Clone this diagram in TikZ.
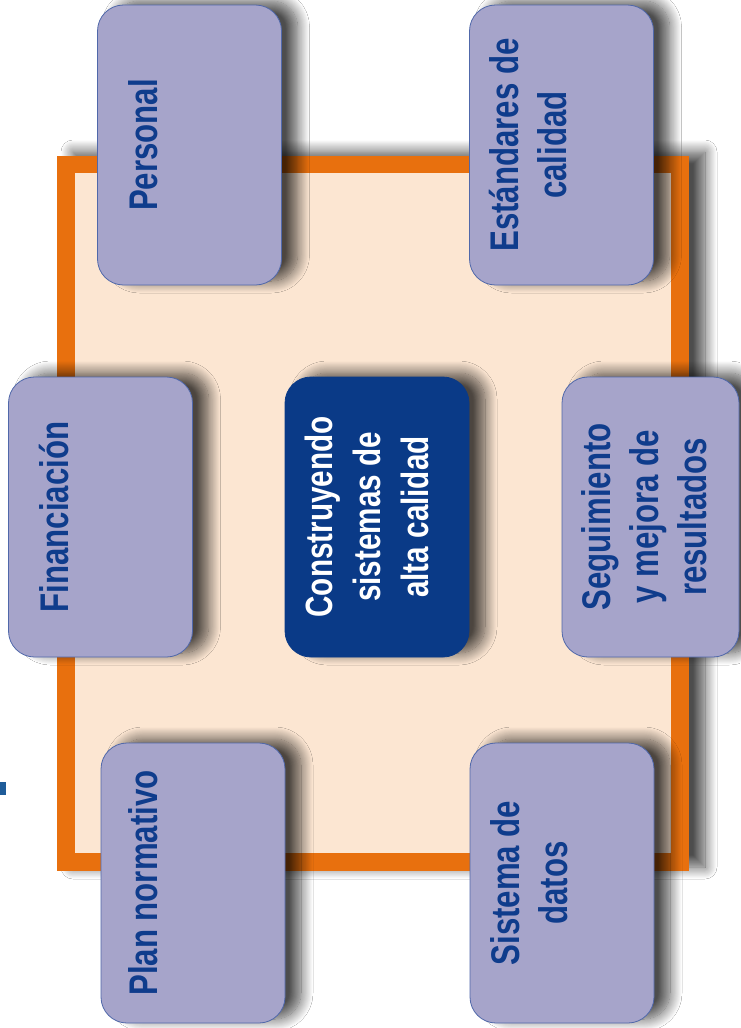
\documentclass[tikz,border=0pt]{standalone}
\usepackage{fontspec}
\newfontfamily\lbl{Liberation Sans}[FakeStretch=0.78]
\usetikzlibrary{shadows.blur,calc}
\definecolor{lav}{HTML}{A6A4CA}
\definecolor{cardline}{HTML}{5068AA}
\definecolor{navytxt}{HTML}{0F3C8C}
\definecolor{navyfill}{HTML}{0A3A87}
\definecolor{orangefr}{HTML}{E8700E}
\definecolor{creamfr}{HTML}{FCE6D2}
\definecolor{markblue}{HTML}{1F5C99}
\begin{document}
\begin{tikzpicture}[x=1pt,y=-1pt,
  sh/.style={blur shadow={shadow xshift=16pt, shadow yshift=4pt, shadow blur radius=12pt, shadow blur steps=16, shadow opacity=70}},
  card/.style={sh, draw=cardline, line width=0.8pt, fill=lav, rounded corners=26pt,
    minimum width=184pt, minimum height=280pt, inner sep=0pt},
  lab/.style={rotate=90, font=\lbl\bfseries\fontsize{40}{48}\selectfont, text=navytxt, align=center, inner sep=0pt},
  corelab/.style={lab, font=\lbl\bfseries\fontsize{38}{48}\selectfont, text=white},
]
\useasboundingbox (0,0) rectangle (740,1028);
\fill[white] (0,0) rectangle (740,1028);
% small mark at left edge
\node[fill=markblue, minimum width=6pt, minimum height=13pt, inner sep=0pt] (mark) at (3,788.5) {};
% frame
\node[sh, fill=orangefr, minimum width=632pt, minimum height=715pt, inner sep=0pt] (frame) at (373,513.5) {};
\node[fill=creamfr, minimum width=596pt, minimum height=680pt, inner sep=0pt] (inner) at (373,513) {};
% cards
\node[card] (personal) at (189.5,145) {};
\node[card] (estandares) at (561.5,145) {};
\node[card] (financiacion) at (100.5,517) {};
\node[card, fill=navyfill, draw=navyfill] (core) at (377,517) {};
\node[card, minimum width=177pt] (seguimiento) at (650.5,517) {};
\node[card] (plan) at (193,883) {};
\node[card] (sistema) at (562,883) {};
% labels
\node[lab] (personal-t) at ($(personal.west)+(46,0)$) {Personal};
\node[lab] (estandares-t) at ($(estandares.west)+(59,0)$) {Estándares de\\calidad};
\node[lab] (financiacion-t) at ($(financiacion.west)+(46,0)$) {Financiación};
\node[corelab] (core-t) at ($(core.west)+(82,0)$) {Construyendo\\sistemas de\\alta calidad};
\node[lab] (seguimiento-t) at ($(seguimiento.west)+(83,0)$) {Seguimiento\\y mejora de\\resultados};
\node[lab] (plan-t) at ($(plan.west)+(43,0)$) {Plan normativo};
\node[lab] (sistema-t) at ($(sistema.west)+(59.5,0)$) {Sistema de\\datos};
\end{tikzpicture}
\end{document}
